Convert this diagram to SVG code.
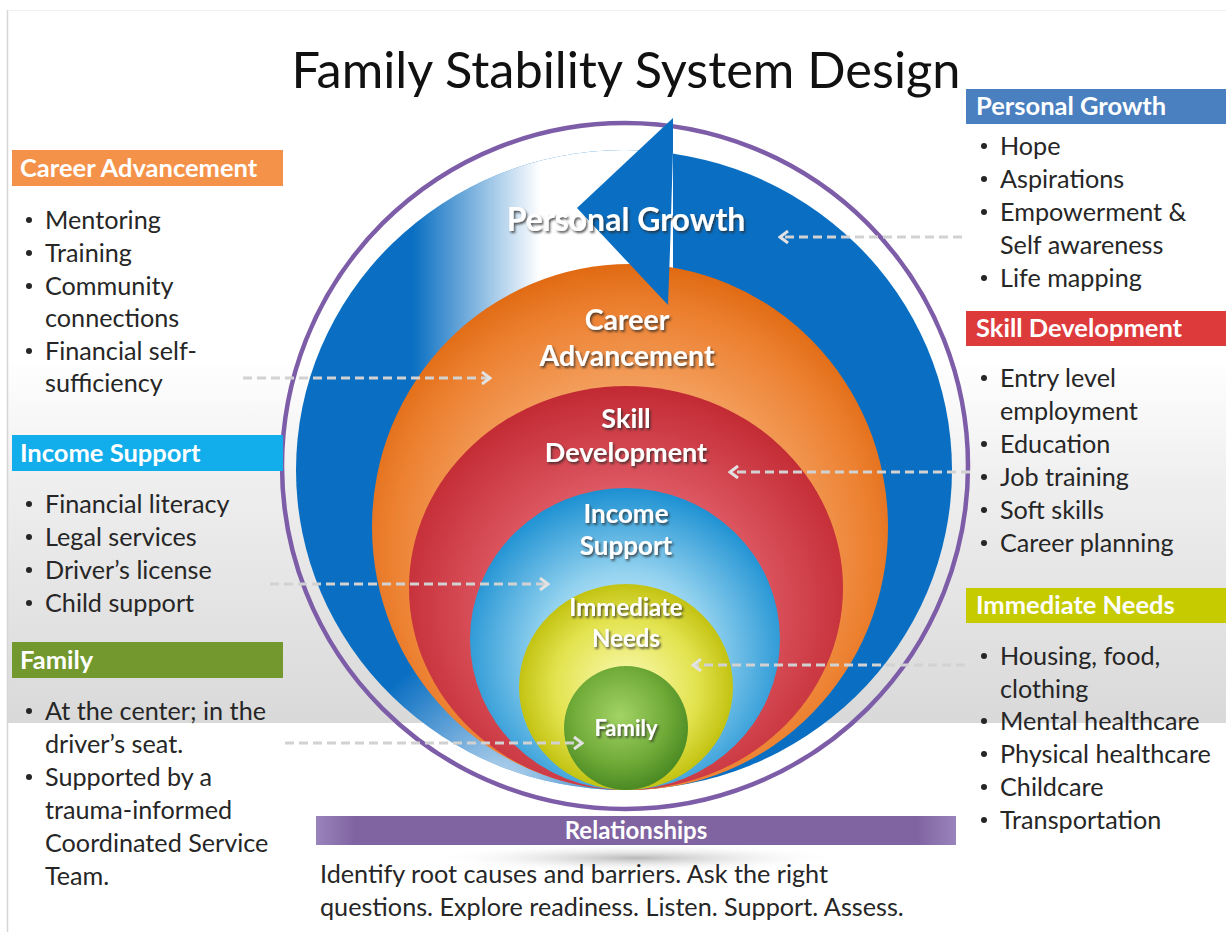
<svg xmlns="http://www.w3.org/2000/svg" width="1226" height="932" viewBox="0 0 1226 932">
<style>
  .title{font-family:Lato,"Liberation Sans",sans-serif;font-size:50.5px;fill:#111;}
  .hdr{font-family:Lato,"Liberation Sans",sans-serif;font-size:25.5px;font-weight:bold;fill:#fff;}
  .item{font-family:Lato,"Liberation Sans",sans-serif;font-size:25.2px;fill:#262626;}
  .dot{fill:#262626;}
  .lbl{font-family:Lato,"Liberation Sans",sans-serif;font-weight:bold;fill:#fff;text-anchor:middle;filter:url(#tshadow);}
  .conn{fill:none;stroke:#d2d2d2;stroke-width:3;stroke-dasharray:9 5;marker-end:url(#chev);}
</style>
<defs>
  <filter id="tshadow" x="-10%" y="-30%" width="130%" height="170%">
    <feDropShadow dx="1.5" dy="2" stdDeviation="1.2" flood-color="#2a2a2a" flood-opacity="0.75"/>
  </filter>
  <marker id="chev" viewBox="0 0 12 14" refX="10" refY="7" markerWidth="12" markerHeight="14" markerUnits="userSpaceOnUse" orient="auto">
    <path d="M2,1 L10,7 L2,13" fill="none" stroke="#e2e2e2" stroke-width="3"/>
  </marker>
  <linearGradient id="band" x1="0" y1="0" x2="0" y2="1">
    <stop offset="0" stop-color="#ffffff"/>
    <stop offset="0.35" stop-color="#eeeeee"/>
    <stop offset="1" stop-color="#d9d9d9"/>
  </linearGradient>
  <linearGradient id="fade" gradientUnits="userSpaceOnUse" x1="413" y1="0" x2="540" y2="0">
    <stop offset="0" stop-color="#ffffff" stop-opacity="0"/>
    <stop offset="1" stop-color="#ffffff" stop-opacity="1"/>
  </linearGradient>
  <radialGradient id="lowfade" gradientUnits="userSpaceOnUse" cx="500" cy="790" r="150">
    <stop offset="0" stop-color="#ffffff" stop-opacity="0.75"/>
    <stop offset="1" stop-color="#ffffff" stop-opacity="0"/>
  </radialGradient>
  <radialGradient id="gOrange" cx="0.5" cy="0.55" r="0.55">
    <stop offset="0" stop-color="#FBD6B8"/>
    <stop offset="0.55" stop-color="#F4A262"/>
    <stop offset="0.85" stop-color="#EC8030"/>
    <stop offset="1" stop-color="#E06A12"/>
  </radialGradient>
  <radialGradient id="gRed" cx="0.5" cy="0.55" r="0.55">
    <stop offset="0" stop-color="#F19AA2"/>
    <stop offset="0.6" stop-color="#DA525C"/>
    <stop offset="1" stop-color="#C22A33"/>
  </radialGradient>
  <radialGradient id="gInc" cx="0.5" cy="0.55" r="0.55">
    <stop offset="0" stop-color="#EAF7FD"/>
    <stop offset="0.5" stop-color="#93D2EF"/>
    <stop offset="1" stop-color="#1C90D2"/>
  </radialGradient>
  <radialGradient id="gYel" cx="0.5" cy="0.5" r="0.55">
    <stop offset="0" stop-color="#FBFBB8"/>
    <stop offset="0.6" stop-color="#E3E350"/>
    <stop offset="1" stop-color="#B9B900"/>
  </radialGradient>
  <radialGradient id="gGrn" cx="0.45" cy="0.4" r="0.6">
    <stop offset="0" stop-color="#A2D365"/>
    <stop offset="0.65" stop-color="#6FAA37"/>
    <stop offset="1" stop-color="#4B8A24"/>
  </radialGradient>
  <linearGradient id="gPurple" x1="0" y1="0" x2="1" y2="0">
    <stop offset="0" stop-color="#9A84BC"/>
    <stop offset="0.06" stop-color="#8064A2"/>
    <stop offset="0.94" stop-color="#8064A2"/>
    <stop offset="1" stop-color="#9A84BC"/>
  </linearGradient>
  <radialGradient id="gShadow" cx="0.5" cy="0.5" r="0.5">
    <stop offset="0" stop-color="#9a9a9a" stop-opacity="0.7"/>
    <stop offset="1" stop-color="#ffffff" stop-opacity="0"/>
  </radialGradient>
  <clipPath id="blueClip">
    <ellipse cx="624" cy="470" rx="328" ry="320"/>
  </clipPath>
</defs>

<rect x="0" y="0" width="1226" height="932" fill="#ffffff"/>
<g id="background">
  <rect x="8" y="360" width="1218" height="363" fill="url(#band)"/>
  <line x1="7.5" y1="10" x2="7.5" y2="932" stroke="#d6d6d6" stroke-width="1.5"/>
  <line x1="8" y1="10.5" x2="1226" y2="10.5" stroke="#f0f0f0" stroke-width="1"/>
</g>

<text class="title" x="626" y="88" text-anchor="middle">Family Stability System Design</text>

<g id="diagram">
  <g id="node-relationships-circle">
    <ellipse cx="625" cy="466" rx="343" ry="343" fill="none" stroke="#7D5CA8" stroke-width="4.5"/>
  </g>
  <g id="node-personal-growth-band">
    <ellipse cx="624" cy="470" rx="328" ry="320" fill="#0A6FC2"/>
    <g clip-path="url(#blueClip)">
      <rect x="400" y="120" width="273" height="300" fill="url(#fade)"/>
      <rect x="340" y="640" width="320" height="170" fill="url(#lowfade)"/>
    </g>
  </g>
  <g id="node-career-advancement">
    <ellipse cx="630" cy="527" rx="258" ry="263" fill="url(#gOrange)"/>
    <text class="lbl" x="627" y="330" font-size="28.5">Career</text>
    <text class="lbl" x="627" y="366" font-size="28.5">Advancement</text>
  </g>
  <g id="node-personal-growth">
    <polygon points="673,118 577,208 668,305 670,250 673,150" fill="#0A6FC2"/>
    <text class="lbl" x="626" y="231" font-size="32">Personal Growth</text>
  </g>
  <g id="node-skill-development">
    <ellipse cx="626" cy="588" rx="217" ry="202" fill="url(#gRed)"/>
    <text class="lbl" x="626" y="428" font-size="27">Skill</text>
    <text class="lbl" x="626" y="462" font-size="27">Development</text>
  </g>
  <g id="node-income-support">
    <ellipse cx="625" cy="639" rx="155" ry="151" fill="url(#gInc)"/>
    <text class="lbl" x="626" y="523" font-size="26">Income</text>
    <text class="lbl" x="626" y="555" font-size="26">Support</text>
  </g>
  <g id="node-immediate-needs">
    <ellipse cx="626" cy="687" rx="107" ry="103" fill="url(#gYel)"/>
    <text class="lbl" x="626" y="616" font-size="24">Immediate</text>
    <text class="lbl" x="626" y="647" font-size="24">Needs</text>
  </g>
  <g id="node-family">
    <ellipse cx="626" cy="728" rx="62" ry="62" fill="url(#gGrn)"/>
    <text class="lbl" x="626" y="736" font-size="22">Family</text>
  </g>
</g>

<g id="panel-career-advancement">
  <rect x="12" y="150" width="271" height="36" fill="#F5924A"/>
  <text class="hdr" x="20" y="177">Career Advancement</text>
  <g class="dot">
    <circle cx="29" cy="220" r="3"/><circle cx="29" cy="253" r="3"/><circle cx="29" cy="286" r="3"/><circle cx="29" cy="351" r="3"/>
  </g>
  <g class="item">
    <text x="45" y="229">Mentoring</text>
    <text x="45" y="262">Training</text>
    <text x="45" y="295">Community</text>
    <text x="45" y="327">connections</text>
    <text x="45" y="360">Financial self-</text>
    <text x="45" y="392">sufficiency</text>
  </g>
</g>

<g id="panel-income-support">
  <rect x="12" y="435" width="271" height="36" fill="#12AEEC"/>
  <text class="hdr" x="20" y="462">Income Support</text>
  <g class="dot">
    <circle cx="29" cy="504" r="3"/><circle cx="29" cy="537" r="3"/><circle cx="29" cy="570" r="3"/><circle cx="29" cy="603" r="3"/>
  </g>
  <g class="item">
    <text x="45" y="513">Financial literacy</text>
    <text x="45" y="546">Legal services</text>
    <text x="45" y="579">Driver’s license</text>
    <text x="45" y="612">Child support</text>
  </g>
</g>

<g id="panel-family">
  <rect x="12" y="642" width="271" height="36" fill="#72982E"/>
  <text class="hdr" x="20" y="669">Family</text>
  <g class="dot">
    <circle cx="29" cy="711" r="3"/><circle cx="29" cy="777" r="3"/>
  </g>
  <g class="item">
    <text x="45" y="720">At the center; in the</text>
    <text x="45" y="753">driver’s seat.</text>
    <text x="45" y="786">Supported by a</text>
    <text x="45" y="819">trauma-informed</text>
    <text x="45" y="852">Coordinated Service</text>
    <text x="45" y="885">Team.</text>
  </g>
</g>

<g id="panel-personal-growth">
  <rect x="966" y="89" width="260" height="35" fill="#4A7FC0"/>
  <text class="hdr" x="976" y="115">Personal Growth</text>
  <g class="dot">
    <circle cx="984" cy="146" r="3"/><circle cx="984" cy="179" r="3"/><circle cx="984" cy="212" r="3"/><circle cx="984" cy="278" r="3"/>
  </g>
  <g class="item">
    <text x="1000" y="155">Hope</text>
    <text x="1000" y="188">Aspirations</text>
    <text x="1000" y="221">Empowerment &amp;</text>
    <text x="1000" y="254">Self awareness</text>
    <text x="1000" y="287">Life mapping</text>
  </g>
</g>

<g id="panel-skill-development">
  <rect x="966" y="311" width="260" height="35" fill="#DD3A3C"/>
  <text class="hdr" x="976" y="337">Skill Development</text>
  <g class="dot">
    <circle cx="984" cy="378" r="3"/><circle cx="984" cy="444" r="3"/><circle cx="984" cy="477" r="3"/><circle cx="984" cy="510" r="3"/><circle cx="984" cy="543" r="3"/>
  </g>
  <g class="item">
    <text x="1000" y="387">Entry level</text>
    <text x="1000" y="420">employment</text>
    <text x="1000" y="453">Education</text>
    <text x="1000" y="486">Job training</text>
    <text x="1000" y="519">Soft skills</text>
    <text x="1000" y="552">Career planning</text>
  </g>
</g>

<g id="panel-immediate-needs">
  <rect x="966" y="588" width="260" height="35" fill="#C6CB00"/>
  <text class="hdr" x="976" y="614">Immediate Needs</text>
  <g class="dot">
    <circle cx="984" cy="656" r="3"/><circle cx="984" cy="721" r="3"/><circle cx="984" cy="754" r="3"/><circle cx="984" cy="787" r="3"/><circle cx="984" cy="820" r="3"/>
  </g>
  <g class="item">
    <text x="1000" y="665">Housing, food,</text>
    <text x="1000" y="698">clothing</text>
    <text x="1000" y="730">Mental healthcare</text>
    <text x="1000" y="763">Physical healthcare</text>
    <text x="1000" y="796">Childcare</text>
    <text x="1000" y="829">Transportation</text>
  </g>
</g>

<g id="node-relationships">
  <ellipse cx="636" cy="858" rx="210" ry="14" fill="url(#gShadow)"/>
  <rect x="316" y="816" width="640" height="29" fill="url(#gPurple)"/>
  <text x="636" y="839" font-family="Lato,'Liberation Sans',sans-serif" font-size="24" font-weight="bold" fill="#fff" text-anchor="middle">Relationships</text>
  <g class="item">
    <text x="320" y="883">Identify root causes and barriers. Ask the right</text>
    <text x="320" y="916">questions. Explore readiness. Listen. Support. Assess.</text>
  </g>
</g>

<g id="connectors">
  <line class="conn" x1="243" y1="378" x2="490" y2="378"/>
  <line class="conn" x1="270" y1="584" x2="548" y2="584"/>
  <line class="conn" x1="285" y1="743" x2="582" y2="743"/>
  <line class="conn" x1="962" y1="237" x2="780" y2="237"/>
  <line class="conn" x1="970" y1="472" x2="730" y2="472"/>
  <line class="conn" x1="965" y1="665" x2="693" y2="665"/>
</g>
</svg>
